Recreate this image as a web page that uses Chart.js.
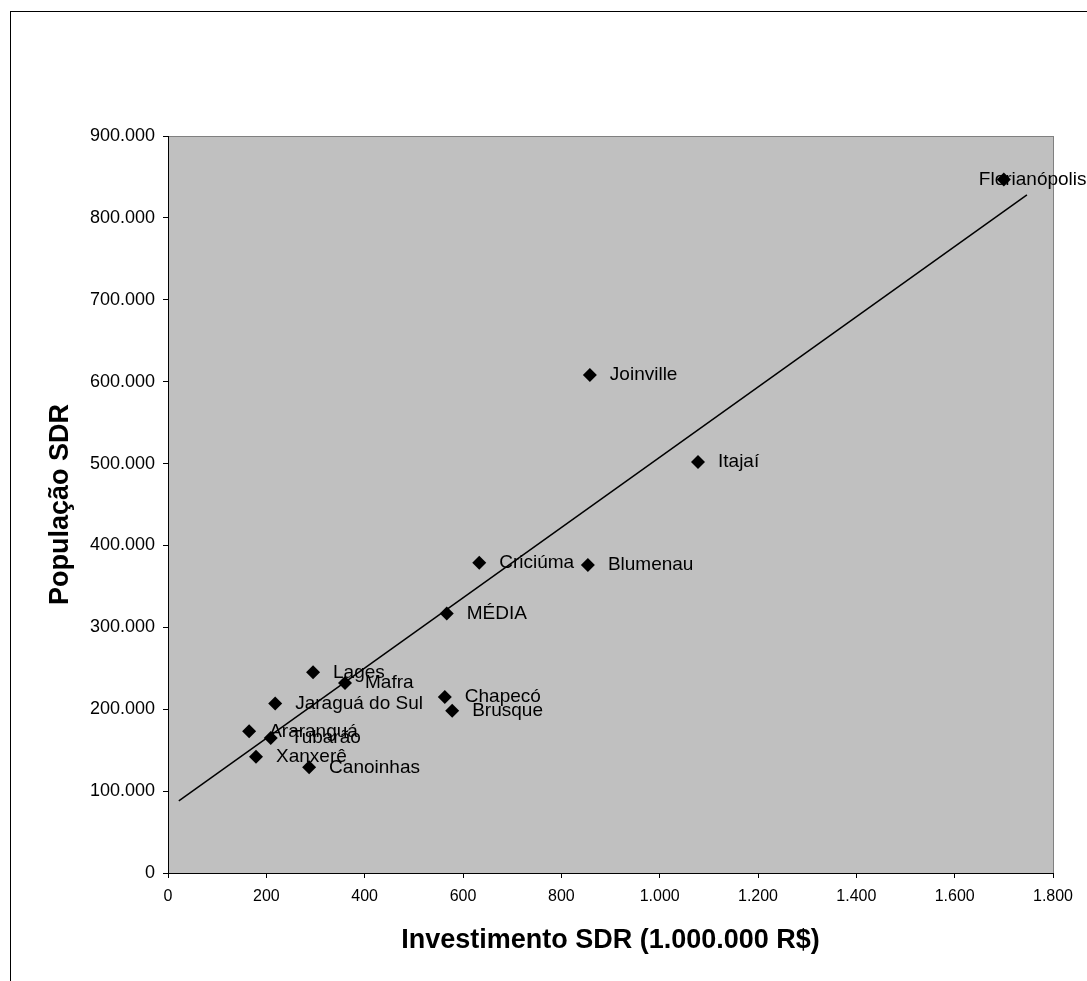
<!DOCTYPE html>
<html>
<head>
<meta charset="utf-8">
<script src="https://cdn.jsdelivr.net/npm/chart.js@4/dist/chart.umd.min.js"></script>
<style>
  body { margin: 0; background: #fff; }
  #wrap { width: 1087px; height: 981px; }
</style>
</head>
<body>
<div id="wrap"><canvas id="sdrChart" width="1087" height="981"></canvas></div>
<script>
const cities = ['Florianópolis', 'Joinville', 'Itajaí', 'Criciúma', 'Blumenau', 'MÉDIA', 'Lages', 'Mafra',
    'Jaraguá do Sul', 'Chapecó', 'Brusque', 'Araranguá', 'Tubarão', 'Xanxerê', 'Canoinhas'];
const investment = [1700, 858, 1078, 633, 854, 567, 295, 360, 218, 563, 578, 165, 209, 179, 287];
const population = [847000, 608000, 502000, 379000, 376000, 317000, 245000, 232000,
    207000, 215000, 198000, 173000, 165000, 142000, 129000];
// linha de tendência
const trendX = [22, 1747];
const trendY = [88000, 828000];
const xTicks = [0, 200, 400, 600, 800, 1000, 1200, 1400, 1600, 1800];
const yTicks = [0, 100000, 200000, 300000, 400000, 500000, 600000, 700000, 800000, 900000];

const FONT = "'Liberation Sans', Arial, sans-serif";

function fmt(v) {
    // separador de milhar com ponto
    return String(v).replace(/\B(?=(\d{3})+(?!\d))/g, '.');
}

const points = investment.map((x, i) => ({ x: x, y: population[i] }));
const trend = trendX.map((x, i) => ({ x: x, y: trendY[i] }));

const framePlugin = {
    id: 'frame',
    beforeDraw(chart) {
        const { ctx, chartArea: a } = chart;
        ctx.save();
        ctx.fillStyle = '#fff';
        ctx.fillRect(0, 0, chart.width, chart.height);
        ctx.strokeStyle = '#000';
        ctx.lineWidth = 1;
        ctx.strokeRect(10.5, 11.5, 2000, 2000);
        ctx.fillStyle = '#c0c0c0';
        ctx.fillRect(a.left, a.top, a.right - a.left, a.bottom - a.top);
        ctx.strokeStyle = '#808080';
        ctx.strokeRect(a.left + 0.5, a.top + 0.5, a.right - a.left, a.bottom - a.top);
        ctx.restore();
    }
};

const labelPlugin = {
    id: 'pointLabels',
    afterDatasetsDraw(chart) {
        const { ctx, chartArea: a } = chart;
        const meta = chart.getDatasetMeta(0);
        ctx.save();
        ctx.font = '19px ' + FONT;
        ctx.fillStyle = '#000';
        ctx.textBaseline = 'middle';
        meta.data.forEach((pt, i) => {
            const w = ctx.measureText(cities[i]).width;
            let tx = pt.x + 20;
            if (tx + w > a.right) tx = pt.x - 25;
            ctx.fillText(cities[i], tx, pt.y);
        });
        ctx.restore();
    }
};

const ctx = document.getElementById('sdrChart').getContext('2d');
const chart = new Chart(ctx, {
    type: 'scatter',
    data: {
        datasets: [
            {
                label: 'SDR',
                data: points,
                pointStyle: 'rectRot',
                pointRadius: 7,
                pointHoverRadius: 7,
                backgroundColor: '#000',
                borderColor: '#000',
                borderWidth: 0
            },
            {
                type: 'line',
                label: 'Tendência',
                data: trend,
                borderColor: '#000',
                borderWidth: 1.5,
                pointRadius: 0,
                fill: false
            }
        ]
    },
    options: {
        responsive: false,
        animation: false,
        layout: { padding: { top: 136, right: 34, left: 0, bottom: 0 } },
        plugins: {
            legend: { display: false },
            tooltip: { enabled: false }
        },
        scales: {
            x: {
                type: 'linear',
                min: 0,
                max: 1800,
                afterFit: (s) => { s.height = 108; },
                afterBuildTicks: (s) => { s.ticks = xTicks.map(v => ({ value: v })); },
                grid: { drawOnChartArea: false, drawTicks: true, tickLength: 5, color: '#000' },
                border: { display: true, color: '#000', width: 1 },
                ticks: {
                    color: '#000',
                    padding: 9,
                    maxRotation: 0,
                    font: { family: FONT, size: 16 },
                    callback: (v) => fmt(v)
                },
                title: {
                    display: true,
                    text: 'Investimento SDR (1.000.000 R$)',
                    color: '#000',
                    font: { family: FONT, size: 27, weight: 'bold' },
                    padding: { top: 0, bottom: 24 }
                }
            },
            y: {
                type: 'linear',
                min: 0,
                max: 900000,
                afterFit: (s) => { s.width = 168; },
                afterBuildTicks: (s) => { s.ticks = yTicks.map(v => ({ value: v })); },
                grid: { drawOnChartArea: false, drawTicks: true, tickLength: 5, color: '#000' },
                border: { display: true, color: '#000', width: 1 },
                ticks: {
                    color: '#000',
                    padding: 8,
                    font: { family: FONT, size: 18 },
                    callback: (v) => fmt(v)
                },
                title: {
                    display: true,
                    text: 'População SDR',
                    color: '#000',
                    font: { family: FONT, size: 27, weight: 'bold' },
                    padding: { top: 44, bottom: 0 }
                }
            }
        }
    },
    plugins: [framePlugin, labelPlugin]
});
</script>
</body>
</html>
